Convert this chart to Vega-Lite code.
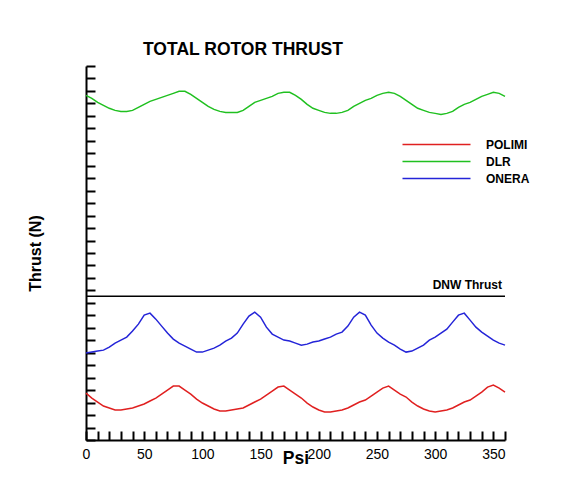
{
"$schema": "https://vega.github.io/schema/vega-lite/v6.json",
"width": 419, "height": 374,
"autosize": "none",
"padding": {"left": 86, "top": 66, "right": 62, "bottom": 46},
"background": "white",
"config": {"view": {"stroke": null}, "font": "Liberation Sans"},
"title": {"text": "TOTAL ROTOR THRUST", "anchor": "start", "frame": "group", "dx": 57, "offset": 7, "fontSize": 17.5, "fontWeight": "bold", "font": "Liberation Sans", "color": "black"},
"layer": [
{
"data": {"values": [
{"psi":0,"POLIMI":0.753,"DLR":5.529,"ONERA":1.394},
{"psi":5,"POLIMI":0.673,"DLR":5.481,"ONERA":1.410},
{"psi":10,"POLIMI":0.609,"DLR":5.417,"ONERA":1.426},
{"psi":15,"POLIMI":0.545,"DLR":5.369,"ONERA":1.442},
{"psi":20,"POLIMI":0.513,"DLR":5.321,"ONERA":1.490},
{"psi":25,"POLIMI":0.481,"DLR":5.288,"ONERA":1.554},
{"psi":30,"POLIMI":0.481,"DLR":5.272,"ONERA":1.603},
{"psi":35,"POLIMI":0.497,"DLR":5.272,"ONERA":1.651},
{"psi":40,"POLIMI":0.513,"DLR":5.288,"ONERA":1.747},
{"psi":45,"POLIMI":0.545,"DLR":5.337,"ONERA":1.859},
{"psi":50,"POLIMI":0.577,"DLR":5.385,"ONERA":2.003},
{"psi":55,"POLIMI":0.625,"DLR":5.433,"ONERA":2.035},
{"psi":60,"POLIMI":0.673,"DLR":5.465,"ONERA":1.939},
{"psi":65,"POLIMI":0.737,"DLR":5.497,"ONERA":1.827},
{"psi":70,"POLIMI":0.801,"DLR":5.529,"ONERA":1.715},
{"psi":75,"POLIMI":0.865,"DLR":5.561,"ONERA":1.619},
{"psi":80,"POLIMI":0.865,"DLR":5.593,"ONERA":1.554},
{"psi":85,"POLIMI":0.801,"DLR":5.593,"ONERA":1.506},
{"psi":90,"POLIMI":0.737,"DLR":5.545,"ONERA":1.458},
{"psi":95,"POLIMI":0.657,"DLR":5.481,"ONERA":1.410},
{"psi":100,"POLIMI":0.593,"DLR":5.417,"ONERA":1.410},
{"psi":105,"POLIMI":0.545,"DLR":5.353,"ONERA":1.442},
{"psi":110,"POLIMI":0.497,"DLR":5.304,"ONERA":1.474},
{"psi":115,"POLIMI":0.465,"DLR":5.272,"ONERA":1.522},
{"psi":120,"POLIMI":0.465,"DLR":5.256,"ONERA":1.587},
{"psi":125,"POLIMI":0.481,"DLR":5.256,"ONERA":1.635},
{"psi":130,"POLIMI":0.497,"DLR":5.256,"ONERA":1.715},
{"psi":135,"POLIMI":0.513,"DLR":5.288,"ONERA":1.859},
{"psi":140,"POLIMI":0.561,"DLR":5.353,"ONERA":1.987},
{"psi":145,"POLIMI":0.609,"DLR":5.417,"ONERA":2.051},
{"psi":150,"POLIMI":0.657,"DLR":5.449,"ONERA":1.971},
{"psi":155,"POLIMI":0.721,"DLR":5.481,"ONERA":1.811},
{"psi":160,"POLIMI":0.785,"DLR":5.513,"ONERA":1.699},
{"psi":165,"POLIMI":0.849,"DLR":5.561,"ONERA":1.651},
{"psi":170,"POLIMI":0.865,"DLR":5.577,"ONERA":1.603},
{"psi":175,"POLIMI":0.801,"DLR":5.577,"ONERA":1.587},
{"psi":180,"POLIMI":0.737,"DLR":5.529,"ONERA":1.554},
{"psi":185,"POLIMI":0.673,"DLR":5.465,"ONERA":1.522},
{"psi":190,"POLIMI":0.593,"DLR":5.385,"ONERA":1.538},
{"psi":195,"POLIMI":0.529,"DLR":5.321,"ONERA":1.571},
{"psi":200,"POLIMI":0.481,"DLR":5.288,"ONERA":1.587},
{"psi":205,"POLIMI":0.449,"DLR":5.256,"ONERA":1.619},
{"psi":210,"POLIMI":0.449,"DLR":5.240,"ONERA":1.651},
{"psi":215,"POLIMI":0.465,"DLR":5.240,"ONERA":1.699},
{"psi":220,"POLIMI":0.481,"DLR":5.256,"ONERA":1.731},
{"psi":225,"POLIMI":0.513,"DLR":5.288,"ONERA":1.827},
{"psi":230,"POLIMI":0.561,"DLR":5.353,"ONERA":1.971},
{"psi":235,"POLIMI":0.609,"DLR":5.401,"ONERA":2.051},
{"psi":240,"POLIMI":0.641,"DLR":5.449,"ONERA":2.003},
{"psi":245,"POLIMI":0.705,"DLR":5.481,"ONERA":1.843},
{"psi":250,"POLIMI":0.769,"DLR":5.529,"ONERA":1.715},
{"psi":255,"POLIMI":0.833,"DLR":5.561,"ONERA":1.635},
{"psi":260,"POLIMI":0.865,"DLR":5.577,"ONERA":1.571},
{"psi":265,"POLIMI":0.801,"DLR":5.561,"ONERA":1.522},
{"psi":270,"POLIMI":0.737,"DLR":5.513,"ONERA":1.458},
{"psi":275,"POLIMI":0.689,"DLR":5.449,"ONERA":1.410},
{"psi":280,"POLIMI":0.609,"DLR":5.385,"ONERA":1.426},
{"psi":285,"POLIMI":0.545,"DLR":5.321,"ONERA":1.474},
{"psi":290,"POLIMI":0.497,"DLR":5.288,"ONERA":1.522},
{"psi":295,"POLIMI":0.465,"DLR":5.256,"ONERA":1.603},
{"psi":300,"POLIMI":0.449,"DLR":5.240,"ONERA":1.651},
{"psi":305,"POLIMI":0.465,"DLR":5.224,"ONERA":1.715},
{"psi":310,"POLIMI":0.481,"DLR":5.240,"ONERA":1.779},
{"psi":315,"POLIMI":0.513,"DLR":5.272,"ONERA":1.891},
{"psi":320,"POLIMI":0.561,"DLR":5.337,"ONERA":2.003},
{"psi":325,"POLIMI":0.609,"DLR":5.385,"ONERA":2.035},
{"psi":330,"POLIMI":0.641,"DLR":5.417,"ONERA":1.923},
{"psi":335,"POLIMI":0.705,"DLR":5.465,"ONERA":1.811},
{"psi":340,"POLIMI":0.769,"DLR":5.513,"ONERA":1.731},
{"psi":345,"POLIMI":0.849,"DLR":5.545,"ONERA":1.667},
{"psi":350,"POLIMI":0.881,"DLR":5.577,"ONERA":1.603},
{"psi":355,"POLIMI":0.833,"DLR":5.561,"ONERA":1.554},
{"psi":360,"POLIMI":0.769,"DLR":5.513,"ONERA":1.522}
]},
"transform": [{"fold": ["POLIMI", "DLR", "ONERA"], "as": ["series", "thrust"]}],
"mark": {"type": "line", "strokeWidth": 1.5},
"encoding": {
"x": {"field": "psi", "type": "quantitative", "scale": {"domain": [0, 360], "nice": false},
"axis": {"tickCount": 36,
"labelExpr": "datum.value % 50 === 0 ? datum.label : ''", "labelOverlap": false, "labelFlush": false,
"tickSize": -9, "tickWidth": 2,
"encode": {"ticks": {"update": {"y2": {"signal": "datum.value % 50 === 0 ? -10 : -4"}, "strokeWidth": {"signal": "datum.value % 50 === 0 ? 2 : 1"}}}},
"tickColor": "black", "domainColor": "black", "domainWidth": 2, "grid": false,
"labelFontSize": 14, "labelFont": "Liberation Sans", "labelColor": "black", "labelPadding": 16,
"title": "Psi", "titleFontSize": 17.5, "titleFontWeight": "bold", "titleColor": "black", "titleFont": "Liberation Sans", "titleBaseline": "top", "titleY": 9}},
"y": {"field": "thrust", "type": "quantitative", "title": "Thrust (N)", "scale": {"domain": [0, 6], "nice": false},
"axis": {"tickCount": 30,
"labels": false, "grid": false,
"tickSize": -9, "tickWidth": 2,
"encode": {"ticks": {"update": {"x2": {"signal": "abs(datum.value - round(datum.value)) < 0.001 ? 10 : 4"}, "strokeWidth": {"signal": "abs(datum.value - round(datum.value)) < 0.001 ? 2 : 1"}}}},
"tickColor": "black", "domainColor": "black", "domainWidth": 2,
"titleFontSize": 16, "titleFontWeight": "bold", "titleColor": "black", "titleFont": "Liberation Sans", "titlePadding": 42}},
"color": {"field": "series", "type": "nominal", "scale": {"domain": ["POLIMI", "DLR", "ONERA"], "range": ["#e02020", "#20c020", "#2424d8"]},
"legend": {"orient": "none", "legendX": 341, "legendY": 69, "title": null, "symbolType": "M-4,0H4", "symbolSize": 289, "symbolStrokeWidth": 1.5,
"labelFontSize": 12, "labelFontWeight": "bold", "labelFont": "Liberation Sans", "labelColor": "black", "labelOffset": 40, "rowPadding": 1}}
}
},
{
"data": {"values": [{"thrust": 2.308, "label": "DNW Thrust"}]},
"mark": {"type": "rule", "color": "black", "strokeWidth": 1.5},
"encoding": {"y": {"field": "thrust", "type": "quantitative", "title": "Thrust (N)"}}
},
{
"data": {"values": [{"thrust": 2.308, "label": "DNW Thrust"}]},
"mark": {"type": "text", "align": "right", "baseline": "bottom", "dx": -3, "dy": -4, "fontSize": 12, "fontWeight": "bold", "font": "Liberation Sans", "color": "black"},
"encoding": {"y": {"field": "thrust", "type": "quantitative", "title": "Thrust (N)"}, "x": {"value": "width"}, "text": {"field": "label"}}
}
]
}
